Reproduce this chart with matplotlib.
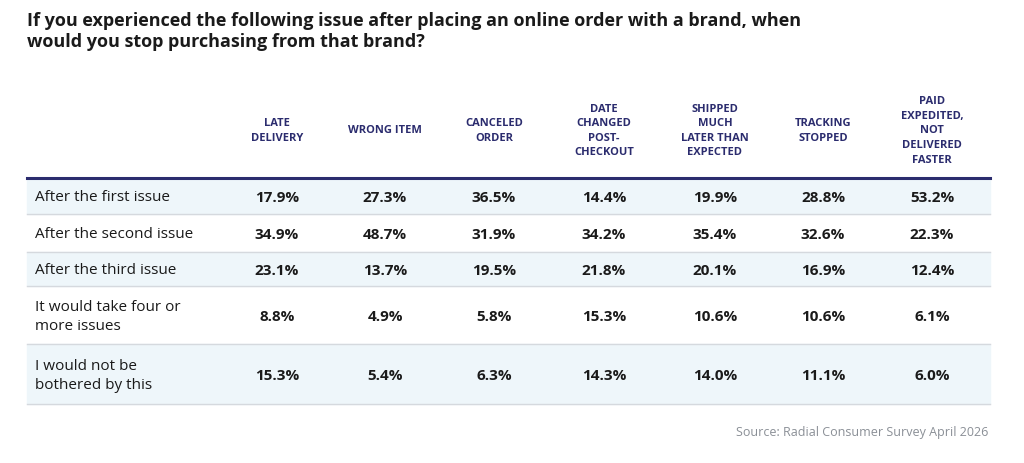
import matplotlib.pyplot as plt
from matplotlib.patches import Rectangle

plt.rcParams['font.family'] = ['Open Sans', 'DejaVu Sans']

title = ("If you experienced the following issue after placing an online order with a brand, when\n"
         "would you stop purchasing from that brand?")
columns = ["LATE\nDELIVERY", "WRONG ITEM", "CANCELED\nORDER", "DATE\nCHANGED\nPOST-\nCHECKOUT",
           "SHIPPED\nMUCH\nLATER THAN\nEXPECTED", "TRACKING\nSTOPPED",
           "PAID\nEXPEDITED,\nNOT\nDELIVERED\nFASTER"]
rows = ["After the first issue", "After the second issue", "After the third issue",
        "It would take four or\nmore issues", "I would not be\nbothered by this"]
values = [
    [17.9, 27.3, 36.5, 14.4, 19.9, 28.8, 53.2],
    [34.9, 48.7, 31.9, 34.2, 35.4, 32.6, 22.3],
    [23.1, 13.7, 19.5, 21.8, 20.1, 16.9, 12.4],
    [8.8, 4.9, 5.8, 15.3, 10.6, 10.6, 6.1],
    [15.3, 5.4, 6.3, 14.3, 14.0, 11.1, 6.0],
]
source = "Source: Radial Consumer Survey April 2026"

navy = '#2b2c6e'
shade = '#eef6fa'
col_x = [277, 385, 494, 604, 715, 823, 932]
row_edges = [179, 215, 253, 287, 345, 405]

fig = plt.figure(figsize=(10.24, 4.64), dpi=100)
ax = fig.add_axes([0, 0, 1, 1])
ax.set_xlim(0, 1024)
ax.set_ylim(464, 0)
ax.axis('off')

ax.text(27, 12, title, fontsize=13, fontweight='bold', color='#1a1a1a', va='top',
        linespacing=1.2)

for cx, name in zip(col_x, columns):
    ax.text(cx, 131, name, fontsize=8, fontweight='bold', color=navy,
            ha='center', va='center', linespacing=1.45)

for i, (label, vals) in enumerate(zip(rows, values)):
    top, bot = row_edges[i], row_edges[i + 1]
    if i % 2 == 0:
        ax.add_patch(Rectangle((27, top), 963, bot - top, color=shade, zorder=0))
    ax.plot([27, 990], [bot, bot], color='#d5d9de', lw=1)
    mid = (top + bot) / 2 + 1
    ax.text(35, mid, label, fontsize=11, color='#1a1a1a', va='center', linespacing=1.45)
    for cx, v in zip(col_x, vals):
        ax.text(cx, mid, f"{v:.1f}%", fontsize=11, fontweight='bold', color='#1a1a1a',
                ha='center', va='center')

ax.plot([27, 990], [179, 179], color=navy, lw=2.2)
ax.text(988, 433, source, fontsize=9, color='#8a8f96', ha='right', va='center')

fig.savefig('out.png', dpi=100)
